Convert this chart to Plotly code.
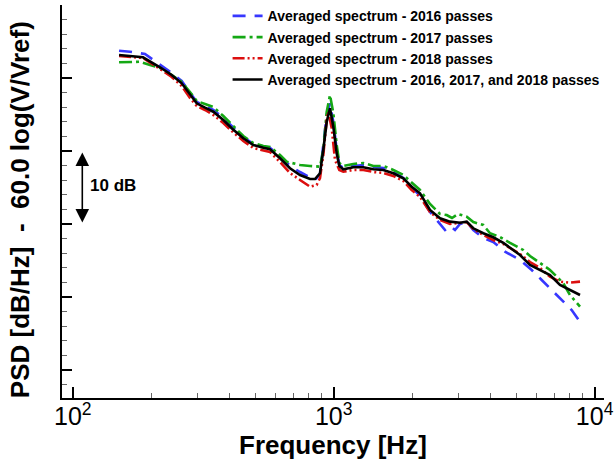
import plotly.graph_objects as go

# ---- data (PSD in dB, arbitrary reference; frequency in Hz) ----
freq_2016 = [150.4, 165.7, 189.1, 209.7, 239.4, 261.5, 281.3, 298.5, 321.2, 345.5, 377.5, 406.4,
             450.3, 491.8, 537.4, 570.1, 622.6, 680.0, 742.8, 811.4, 848.0, 886.1, 912.3, 940.0,
             967.8, 996.5, 1026.8, 1050.7, 1088.4, 1188.8, 1298.4, 1418.6, 1549.5, 1692.3, 1849.2,
             1990.7, 2141.9, 2339.4, 2555.4, 2671.0, 2791.2, 2916.7, 3048.6, 3234.4, 3428.3, 3744.5,
             4089.4, 4216.0, 4536.0, 5177.4, 5741.0, 6269.0, 6848.0, 7479.0, 8169.0, 8791.1]
psd_2016 = [53.74, 53.60, 53.29, 52.15, 50.68, 49.59, 47.95, 46.71, 46.16, 45.62, 44.52, 43.42,
            41.92, 40.96, 40.68, 40.41, 39.32, 37.95, 37.12, 36.44, 36.03, 36.85, 40.82, 44.93,
            46.53, 43.97, 40.14, 38.08, 37.67, 37.95, 38.08, 37.81, 37.67, 37.12, 36.30,
            35.07, 33.84, 31.64, 30.00, 29.18, 29.73, 29.18, 30.00, 30.27, 29.18, 28.08,
            27.53, 27.12, 26.21, 25.07, 23.70, 22.33, 20.96, 19.59, 18.22, 16.58]

freq_2017 = [150.4, 181.0, 197.7, 215.9, 239.4, 261.5, 281.3, 298.5, 321.2, 345.5, 377.5, 406.4,
             450.3, 491.8, 537.4, 570.1, 622.6, 660.6, 742.8, 811.4, 886.1, 912.3, 940.0, 967.8,
             996.5, 1026.8, 1050.7, 1088.4, 1188.8, 1298.4, 1418.6, 1549.5, 1692.3, 1849.2, 1990.7,
             2141.9, 2339.4, 2555.4, 2711.0, 2840.0, 2995.0, 3234.4, 3428.3, 3744.5, 3973.0, 4340.0,
             4740.5, 5329.0, 5655.1, 6176.1, 6746.2, 7586.0, 8048.1, 8791.1]
psd_2017 = [52.15, 52.23, 51.78, 51.37, 50.41, 49.45, 48.08, 46.85, 46.44, 46.03, 44.79, 43.70,
            42.05, 41.10, 40.68, 40.55, 39.45, 38.53, 38.08, 37.95, 37.85, 40.14, 45.34, 47.67,
            45.21, 40.82, 38.36, 37.95, 38.22, 38.36, 37.95, 37.95, 37.40, 36.71, 35.62,
            34.66, 32.74, 31.37, 31.23, 30.82, 31.37, 31.00, 30.27, 29.86, 28.73, 28.22,
            27.40, 26.44, 25.62, 24.62, 23.70, 21.88, 20.27, 18.67]

freq_2018 = [150.4, 185.8, 215.9, 239.4, 261.5, 281.3, 298.5, 321.2, 345.5, 377.5, 406.4, 450.3,
             491.8, 537.4, 570.1, 622.6, 680.0, 742.8, 811.4, 860.5, 886.1, 912.3, 940.0, 953.4,
             982.4, 1011.6, 1050.7, 1088.4, 1188.8, 1298.4, 1418.6, 1549.5, 1692.3, 1849.2, 1990.7,
             2141.9, 2339.4, 2555.4, 2791.2, 3048.6, 3234.4, 3428.3, 3744.5, 4089.4, 4468.1, 4740.5,
             5177.4, 5655.1, 6176.1, 6746.2, 7368.1, 8048.1, 8791.1]
psd_2018 = [53.01, 52.74, 51.23, 50.14, 48.90, 47.26, 46.16, 45.62, 44.93, 43.84, 42.74, 41.37,
            40.41, 40.14, 39.86, 38.49, 36.99, 36.03, 35.11, 35.34, 36.30, 39.45, 44.25, 45.38,
            43.15, 38.77, 37.40, 37.16, 37.40, 37.40, 37.12, 36.99, 36.58, 35.89, 34.66,
            33.70, 31.64, 30.55, 30.00, 30.14, 30.27, 29.32, 28.49, 27.81, 27.26, 26.71,
            25.89, 24.79, 23.97, 22.78, 22.10, 21.96, 22.10]

freq_avg = [150.4, 185.8, 215.9, 239.4, 261.5, 281.3, 298.5, 321.2, 345.5, 377.5, 406.4, 450.3,
            491.8, 537.4, 570.1, 622.6, 680.0, 742.8, 811.4, 848.0, 886.1, 912.3, 940.0, 967.8,
            996.5, 1026.8, 1050.7, 1088.4, 1188.8, 1298.4, 1418.6, 1549.5, 1692.3, 1849.2, 1990.7,
            2141.9, 2339.4, 2555.4, 2791.2, 3048.6, 3234.4, 3428.3, 3744.5, 4089.4, 4468.1, 4740.5,
            5177.4, 5655.1, 6176.1, 6746.2, 7368.1, 8048.1, 8791.1]
psd_avg = [53.15, 52.84, 51.47, 50.41, 49.27, 47.67, 46.53, 45.93, 45.38, 44.25, 43.11, 41.74,
           40.82, 40.45, 40.23, 39.00, 37.63, 36.71, 36.16, 36.16, 36.95, 40.14, 43.97, 45.85,
           43.33, 39.68, 37.95, 37.49, 37.77, 37.77, 37.49, 37.40, 36.95, 36.26, 35.11,
           34.21, 31.92, 30.78, 30.32, 30.18, 30.32, 29.41, 28.73, 28.18, 27.40, 26.75,
           25.75, 24.38, 23.70, 23.01, 21.64, 20.96, 20.27]

series_names = ["Averaged spectrum - 2016 passes",
                "Averaged spectrum - 2017 passes",
                "Averaged spectrum - 2018 passes",
                "Averaged spectrum - 2016, 2017, and 2018 passes"]

x_tick_vals = [100, 1000, 10000]
x_tick_text = ["10<sup>2</sup>", "10<sup>3</sup>", "10<sup>4</sup>"]

FONT = "Arial, Liberation Sans, sans-serif"

fig = go.Figure()
styles = [
    (freq_2016, psd_2016, "rgb(55,55,255)", "13px,9px"),
    (freq_2017, psd_2017, "rgb(20,168,20)", "13px,4px,3px,4px"),
    (freq_2018, psd_2018, "rgb(220,15,15)", "12px,3px,2px,3px,2px,3px"),
    (freq_avg, psd_avg, "black", "solid"),
]
for (fx, fy, col, dash), name in zip(styles, series_names):
    fig.add_trace(go.Scatter(x=fx, y=fy, mode="lines", name=name,
                             line=dict(color=col, width=2.6, dash=dash)))

fig.update_layout(
    width=614, height=460,
    margin=dict(l=62, r=10, t=5, b=62, autoexpand=False),
    paper_bgcolor="white", plot_bgcolor="white",
    font=dict(family=FONT, color="black"),
    showlegend=True,
    legend=dict(x=0.3055, y=1.012, xanchor="left", yanchor="top",
                bgcolor="rgba(0,0,0,0)", borderwidth=0,
                font=dict(family=FONT, size=14, weight="bold", color="black"),
                tracegroupgap=0),
)

fig.update_xaxes(
    type="log", range=[1.9586, 4.036],
    showline=True, linewidth=2, linecolor="black", mirror=False,
    showgrid=False, zeroline=False,
    tickmode="array", tickvals=x_tick_vals, ticktext=x_tick_text,
    ticks="inside", ticklen=11, tickwidth=2, tickcolor="black",
    tickfont=dict(family=FONT, size=25, color="black"),
    ticklabelstandoff=-5,
    minor=dict(dtick="D1", ticks="inside", ticklen=5, tickwidth=1, tickcolor="#666"),
)
fig.update_yaxes(
    range=[6.16, 60],
    showline=True, linewidth=2, linecolor="black", mirror=False,
    showgrid=False, zeroline=False,
    tick0=0, dtick=10, ticks="inside", ticklen=10, tickwidth=2, tickcolor="black",
    showticklabels=False,
    minor=dict(dtick=2, ticks="inside", ticklen=5, tickwidth=1, tickcolor="#666"),
)

# axis titles
fig.add_annotation(text="<b>Frequency [Hz]</b>", xref="paper", yref="paper",
                   x=0.5, y=-0.119, xanchor="center", yanchor="middle", showarrow=False,
                   font=dict(family=FONT, size=26, color="black"))
fig.add_annotation(text="<b>PSD [dB/Hz]  -  60.0 log(V/Vref)</b>", xref="paper", yref="paper",
                   x=-0.076, y=0.48, xanchor="center", yanchor="middle", textangle=-90,
                   showarrow=False, font=dict(family=FONT, size=26, color="black"))

# 10 dB scale arrow
arrow_f = 2.0364  # log10 position of the arrow
fig.add_annotation(x=arrow_f, y=39.8, ax=arrow_f, ay=30.0, xref="x", yref="y",
                   axref="x", ayref="y", text="", showarrow=True,
                   arrowhead=2, startarrowhead=2, arrowside="end+start",
                   arrowsize=1.7, startarrowsize=1.7, arrowwidth=1.6, arrowcolor="black")
fig.add_annotation(text="<b>10 dB</b>", xref="paper", yref="y", x=0.048, y=35.3,
                   xanchor="left", yanchor="middle", showarrow=False,
                   font=dict(family=FONT, size=17, color="black"))

fig.write_html("out.html")
